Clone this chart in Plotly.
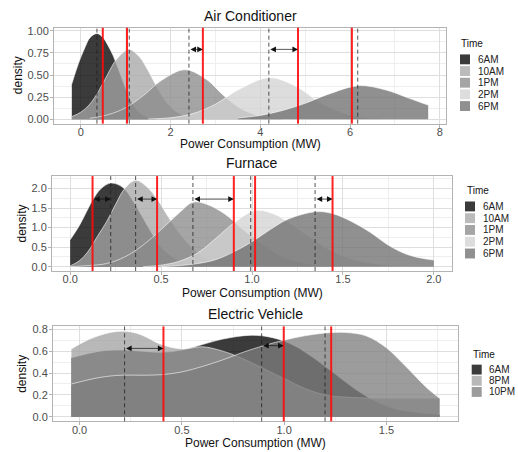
import plotly.graph_objects as go

W, H = 518, 452

# ---------------- data ----------------
# Air Conditioner densities
ac_times = ["6AM", "10AM", "1PM", "2PM", "6PM"]
ac_6am_x = [-0.2, -0.1, 0.0, 0.1, 0.2, 0.36, 0.5, 0.6, 0.72, 0.85, 1.0, 1.15, 1.3, 1.5, 1.75]
ac_6am_y = [0.40, 0.56, 0.70, 0.82, 0.92, 0.97, 0.92, 0.84, 0.72, 0.55, 0.35, 0.18, 0.08, 0.02, 0.0]
ac_10am_x = [-0.2, 0.0, 0.2, 0.4, 0.6, 0.8, 1.07, 1.3, 1.5, 1.7, 1.9, 2.1, 2.4, 2.8]
ac_10am_y = [0.03, 0.08, 0.17, 0.32, 0.51, 0.68, 0.79, 0.71, 0.55, 0.36, 0.20, 0.095, 0.02, 0.0]
ac_1pm_x = [0.2, 0.6, 1.0, 1.4, 1.8, 2.32, 2.8, 3.2, 3.6, 4.0, 4.5]
ac_1pm_y = [0.01, 0.05, 0.13, 0.27, 0.44, 0.56, 0.45, 0.26, 0.11, 0.034, 0.005]
ac_2pm_x = [1.5, 2.0, 2.5, 3.0, 3.5, 4.2, 4.8, 5.3, 5.8, 6.3, 6.8]
ac_2pm_y = [0.003, 0.017, 0.064, 0.17, 0.33, 0.47, 0.37, 0.20, 0.08, 0.022, 0.004]
ac_6pm_x = [3.5, 4.0, 4.5, 5.0, 5.5, 6.2, 6.8, 7.3, 7.74]
ac_6pm_y = [0.014, 0.043, 0.10, 0.18, 0.28, 0.38, 0.33, 0.24, 0.16]
ac_dashed = [0.36, 1.08, 2.41, 4.19, 6.17]
ac_red = [0.49, 1.03, 2.72, 4.84, 6.04]
ac_arrow_from = [2.41, 4.19]
ac_arrow_to = [2.72, 4.84]
ac_arrow_y = [0.79, 0.79]

# Furnace densities
fu_times = ["6AM", "10AM", "1PM", "2PM", "6PM"]
fu_6am_x = [0.0, 0.05, 0.1, 0.123, 0.17, 0.225, 0.29, 0.35, 0.4, 0.45, 0.5, 0.6, 0.7, 0.8]
fu_6am_y = [0.69, 1.05, 1.5, 1.7, 2.0, 2.14, 2.03, 1.65, 1.25, 0.85, 0.5, 0.15, 0.03, 0.0]
fu_10am_x = [0.0, 0.05, 0.1, 0.15, 0.2, 0.25, 0.3, 0.36, 0.42, 0.48, 0.55, 0.62, 0.7, 0.8, 0.9, 1.0]
fu_10am_y = [0.02, 0.15, 0.4, 0.78, 1.15, 1.6, 2.0, 2.21, 2.05, 1.72, 1.2, 0.75, 0.37, 0.12, 0.04, 0.01]
fu_1pm_x = [0.0, 0.1, 0.2, 0.3, 0.4, 0.5, 0.6, 0.675, 0.75, 0.85, 0.95, 1.05, 1.15, 1.25, 1.35, 1.5]
fu_1pm_y = [0.0, 0.03, 0.08, 0.25, 0.55, 0.95, 1.38, 1.65, 1.6, 1.35, 0.95, 0.6, 0.3, 0.13, 0.05, 0.01]
fu_2pm_x = [0.4, 0.5, 0.6, 0.7, 0.8, 0.9, 1.02, 1.12, 1.22, 1.32, 1.42, 1.55, 1.7, 1.85]
fu_2pm_y = [0.0, 0.04, 0.14, 0.35, 0.72, 1.12, 1.44, 1.35, 1.08, 0.75, 0.45, 0.2, 0.06, 0.01]
fu_6pm_x = [0.5, 0.6, 0.7, 0.8, 0.9, 1.0, 1.1, 1.2, 1.357, 1.45, 1.55, 1.65, 1.75, 1.85, 1.93, 2.0]
fu_6pm_y = [0.0, 0.03, 0.08, 0.18, 0.38, 0.64, 0.95, 1.22, 1.41, 1.35, 1.15, 0.88, 0.55, 0.32, 0.22, 0.17]
fu_dashed = [0.223, 0.36, 0.675, 0.993, 1.347]
fu_red = [0.123, 0.478, 0.90, 1.017, 1.443]
fu_arrow_from = [0.123, 0.36, 0.675, 1.347]
fu_arrow_to = [0.223, 0.478, 0.90, 1.443]
fu_arrow_y = [1.73, 1.73, 1.73, 1.73]

# Electric Vehicle densities
ev_times = ["6AM", "8PM", "10PM"]
ev_6am_x = [-0.04, 0.1, 0.2, 0.3, 0.4, 0.5, 0.6, 0.7, 0.84, 0.95, 1.05, 1.15, 1.25, 1.35, 1.45, 1.55, 1.65, 1.76]
ev_6am_y = [0.54, 0.60, 0.61, 0.60, 0.59, 0.61, 0.66, 0.71, 0.745, 0.72, 0.65, 0.53, 0.39, 0.25, 0.14, 0.07, 0.04, 0.02]
ev_8pm_x = [-0.04, 0.05, 0.15, 0.23, 0.3, 0.4, 0.5, 0.6, 0.7, 0.8, 0.9, 1.0, 1.1, 1.2, 1.3, 1.45, 1.6, 1.76]
ev_8pm_y = [0.62, 0.71, 0.77, 0.78, 0.75, 0.66, 0.62, 0.64, 0.60, 0.53, 0.44, 0.35, 0.26, 0.2, 0.18, 0.17, 0.17, 0.17]
ev_10pm_x = [-0.04, 0.1, 0.2, 0.3, 0.4, 0.5, 0.6, 0.7, 0.8, 0.9, 1.0, 1.1, 1.2, 1.3, 1.4, 1.5, 1.6, 1.7, 1.76]
ev_10pm_y = [0.30, 0.36, 0.38, 0.38, 0.385, 0.41, 0.46, 0.52, 0.59, 0.65, 0.70, 0.74, 0.765, 0.77, 0.74, 0.63, 0.45, 0.26, 0.17]
ev_dashed = [0.22, 0.89, 1.20]
ev_red = [0.41, 0.998, 1.23]
ev_arrow_from = [0.22, 0.89]
ev_arrow_to = [0.41, 0.998]
ev_arrow_y = [0.625, 0.65]

x_title = "Power Consumption (MW)"
y_title = "density"
legend_title = "Time"
panel_titles = ["Air Conditioner", "Furnace", "Electric Vehicle"]

# ---------------- styling ----------------
fills = {
    "6AM": "rgba(0,0,0,0.77)",
    "10AM": "rgba(167,167,167,0.77)",
    "1PM": "rgba(138,138,138,0.77)",
    "2PM": "rgba(211,211,211,0.77)",
    "6PM": "rgba(110,110,110,0.77)",
    "8PM": "rgba(163,163,163,0.77)",
    "10PM": "rgba(126,126,126,0.77)",
}
FONT = "Liberation Sans, Arial, sans-serif"

panels = [
    dict(times=ac_times,
         xs=[ac_6am_x, ac_10am_x, ac_1pm_x, ac_2pm_x, ac_6pm_x],
         ys=[ac_6am_y, ac_10am_y, ac_1pm_y, ac_2pm_y, ac_6pm_y],
         dashed=ac_dashed, red=ac_red,
         afrom=ac_arrow_from, ato=ac_arrow_to, ay=ac_arrow_y,
         px=(54, 446), py=(25, 122), xr=[-0.597, 8.137], yr=[-0.05, 1.035],
         xd=2, yd=0.25, xf="d", yf=".2f", title_y=13, xt_y=143, yt_x=17.5,
         leg=dict(tx=459, ty=41, sx=460, s0=57, step=11.8, lx=476)),
    dict(times=fu_times,
         xs=[fu_6am_x, fu_10am_x, fu_1pm_x, fu_2pm_x, fu_6pm_x],
         ys=[fu_6am_y, fu_10am_y, fu_1pm_y, fu_2pm_y, fu_6pm_y],
         dashed=fu_dashed, red=fu_red,
         afrom=fu_arrow_from, ato=fu_arrow_to, ay=fu_arrow_y,
         px=(52, 452), py=(175, 271), xr=[-0.1, 2.1], yr=[-0.11, 2.32],
         xd=0.5, yd=0.5, xf=".1f", yf=".1f", title_y=162, xt_y=293, yt_x=22,
         leg=dict(tx=465, ty=190, sx=465, s0=205.7, step=11.9, lx=481)),
    dict(times=ev_times,
         xs=[ev_6am_x, ev_8pm_x, ev_10pm_x],
         ys=[ev_6am_y, ev_8pm_y, ev_10pm_y],
         dashed=ev_dashed, red=ev_red,
         afrom=ev_arrow_from, ato=ev_arrow_to, ay=ev_arrow_y,
         px=(53, 458), py=(327, 423), xr=[-0.13, 1.85], yr=[-0.041, 0.826],
         xd=0.5, yd=0.2, xf=".1f", yf=".1f", title_y=314.5, xt_y=445, yt_x=22,
         leg=dict(tx=471, ty=355, sx=471.7, s0=370.7, step=11.3, lx=487)),
]

fig = go.Figure()
shapes, annotations = [], []
layout_axes = {}

for i, p in enumerate(panels, start=1):
    sfx = "" if i == 1 else str(i)
    xa, ya = "x" + sfx, "y" + sfx
    for t, xv, yv in zip(p["times"], p["xs"], p["ys"]):
        fig.add_trace(go.Scatter(
            x=xv, y=yv, mode="lines", fill="tozeroy", fillcolor=fills[t],
            line=dict(color="rgba(255,255,255,0.85)", width=0.7, shape="spline", smoothing=1.0),
            name=t, showlegend=False, xaxis=xa, yaxis=ya, hoverinfo="skip"))
    for d in p["dashed"]:
        shapes.append(dict(type="line", xref=xa, yref=ya + " domain", x0=d, x1=d, y0=0, y1=1,
                           line=dict(color="rgba(30,30,30,0.85)", width=0.9, dash="4px,3px")))
    for r in p["red"]:
        shapes.append(dict(type="line", xref=xa, yref=ya + " domain", x0=r, x1=r, y0=0, y1=1,
                           line=dict(color="rgba(255,10,10,0.9)", width=2)))
    for a0, a1, yy in zip(p["afrom"], p["ato"], p["ay"]):
        annotations.append(dict(x=a1, y=yy, ax=a0, ay=yy, xref=xa, yref=ya, axref=xa, ayref=ya,
                                text="", showarrow=True, arrowhead=2, startarrowhead=2,
                                arrowside="end+start", arrowsize=1.6, startarrowsize=1.6,
                                arrowwidth=0.7, arrowcolor="#111", standoff=0, startstandoff=0))
    (x0p, x1p), (y0p, y1p) = p["px"], p["py"]
    axis_common = dict(showline=True, mirror=True, linecolor="#b3b3b3", linewidth=1,
                       ticks="outside", ticklen=3, tickcolor="#b3b3b3", tickwidth=1,
                       gridcolor="#dedede", gridwidth=0.7, zeroline=False,
                       tickfont=dict(family=FONT, size=11, color="#4d4d4d"))
    layout_axes["xaxis" + sfx] = dict(
        axis_common, domain=[x0p / W, x1p / W], range=p["xr"], anchor=ya,
        dtick=p["xd"], tick0=0, tickformat=p["xf"], ticklabelstandoff=-5,
        minor=dict(dtick=p["xd"] / 2, tick0=0, showgrid=True, gridcolor="#eeeeee", gridwidth=0.5))
    layout_axes["yaxis" + sfx] = dict(
        axis_common, domain=[1 - y1p / H, 1 - y0p / H], range=p["yr"], anchor=xa,
        dtick=p["yd"], tick0=0, tickformat=p["yf"], ticklabelstandoff=-1,
        minor=dict(dtick=p["yd"] / 2, tick0=0, showgrid=True, gridcolor="#eeeeee", gridwidth=0.5))
    # panel title
    annotations.append(dict(text=panel_titles[i - 1], x=(x0p + x1p) / 2 / W, y=1 - p["title_y"] / H,
                            xref="paper", yref="paper", showarrow=False, xanchor="center", yanchor="middle",
                            font=dict(family=FONT, size=14, color="#111")))
    # axis titles
    annotations.append(dict(text=x_title, x=(x0p + x1p) / 2 / W, y=1 - p["xt_y"] / H,
                            xref="paper", yref="paper", showarrow=False, xanchor="center", yanchor="middle",
                            font=dict(family=FONT, size=12, color="#111")))
    annotations.append(dict(text=y_title, x=p["yt_x"] / W, y=1 - (y0p + y1p) / 2 / H, textangle=-90,
                            xref="paper", yref="paper", showarrow=False, xanchor="center", yanchor="middle",
                            font=dict(family=FONT, size=12, color="#111")))
    # legend (ggplot-style keys)
    lg = p["leg"]
    annotations.append(dict(text=legend_title, x=lg["tx"] / W, y=1 - lg["ty"] / H, xref="paper", yref="paper",
                            showarrow=False, xanchor="left", yanchor="middle",
                            font=dict(family=FONT, size=10, color="#111")))
    for k, t in enumerate(p["times"]):
        cy = lg["s0"] + k * lg["step"]
        shapes.append(dict(type="rect", xref="paper", yref="paper",
                           x0=lg["sx"] / W, x1=(lg["sx"] + 10) / W,
                           y0=1 - (cy + 5) / H, y1=1 - (cy - 5) / H,
                           fillcolor=fills[t], line=dict(width=0)))
        annotations.append(dict(text=t, x=lg["lx"] / W, y=1 - cy / H, xref="paper", yref="paper",
                                showarrow=False, xanchor="left", yanchor="middle",
                                font=dict(family=FONT, size=10, color="#222")))

fig.update_layout(
    width=W, height=H, margin=dict(l=0, r=0, t=0, b=0),
    paper_bgcolor="white", plot_bgcolor="white", showlegend=False,
    shapes=shapes, annotations=annotations, **layout_axes)

fig.write_html("out.html")
